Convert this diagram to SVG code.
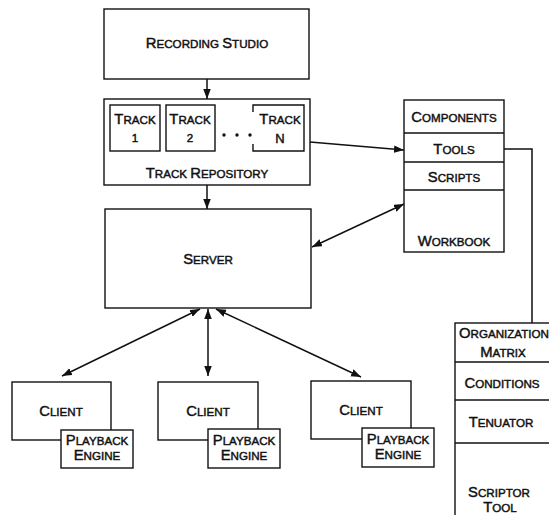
<svg xmlns="http://www.w3.org/2000/svg" width="549" height="515" viewBox="0 0 549 515">
<style>
.box{fill:#fff;stroke:#111;stroke-width:1.4}
.ln{fill:none;stroke:#111;stroke-width:1.5}
text{font-family:"Liberation Sans",Arial,sans-serif;font-size:11.6px;fill:#111;stroke:#111;stroke-width:0.45;text-anchor:middle}
.b{font-size:14.8px}
</style>
<defs>
<marker id="ah" markerUnits="userSpaceOnUse" markerWidth="11" markerHeight="8" refX="10" refY="3.75" orient="auto-start-reverse">
<path d="M0,0 L10,3.75 L0,7.5 z" fill="#111"/>
</marker>
</defs>
<rect width="549" height="515" fill="#fff"/>

<g id="recording-studio">
<rect class="box" x="104" y="9" width="205" height="70"/>
<text x="207" y="48"><tspan class="b">R</tspan>ECORDING <tspan class="b">S</tspan>TUDIO</text>
</g>

<g id="track-repository">
<rect class="box" x="104" y="99" width="206" height="86"/>
<text x="207" y="178"><tspan class="b">T</tspan>RACK <tspan class="b">R</tspan>EPOSITORY</text>
</g>
<g id="track-1">
<rect class="box" x="110" y="105" width="50" height="46"/>
<text x="135" y="124"><tspan class="b">T</tspan>RACK</text>
<text x="135" y="142">1</text>
</g>
<g id="track-2">
<rect class="box" x="166" y="105" width="49" height="46"/>
<text x="190" y="124"><tspan class="b">T</tspan>RACK</text>
<text x="190" y="142">2</text>
</g>
<g id="track-dots">
<circle cx="224" cy="135" r="1.7" fill="#111"/>
<circle cx="237" cy="135" r="1.7" fill="#111"/>
<circle cx="250" cy="135" r="1.7" fill="#111"/>
</g>
<g id="track-n">
<path class="ln" style="stroke-width:1.4" d="M253,112 V105 H304 V151 H253 V144"/>
<text x="280" y="124"><tspan class="b">T</tspan>RACK</text>
<text x="280" y="143" style="font-size:13px">N</text>
</g>

<g id="server">
<rect class="box" x="105" y="209" width="206" height="99"/>
<text x="208" y="264"><tspan class="b">S</tspan>ERVER</text>
</g>

<g id="components">
<rect class="box" x="404" y="100" width="100" height="152"/>
<line class="ln" style="stroke-width:1.4" x1="404" y1="133" x2="504" y2="133"/>
<line class="ln" style="stroke-width:1.4" x1="404" y1="162" x2="504" y2="162"/>
<line class="ln" style="stroke-width:1.4" x1="404" y1="190" x2="504" y2="190"/>
<text x="454" y="122"><tspan class="b">C</tspan>OMPONENTS</text>
<text x="454" y="154"><tspan class="b">T</tspan>OOLS</text>
<text x="454" y="182"><tspan class="b">S</tspan>CRIPTS</text>
<text x="454" y="246"><tspan class="b">W</tspan>ORKBOOK</text>
</g>

<g id="scriptor-tool">
<rect class="box" x="455" y="323" width="100" height="200"/>
<line class="ln" style="stroke-width:1.4" x1="455" y1="362" x2="549" y2="362"/>
<line class="ln" style="stroke-width:1.4" x1="455" y1="400" x2="549" y2="400"/>
<line class="ln" style="stroke-width:1.4" x1="455" y1="443" x2="549" y2="443"/>
<text x="504" y="338"><tspan class="b">O</tspan>RGANIZATION</text>
<text x="503" y="357"><tspan class="b">M</tspan>ATRIX</text>
<text x="502" y="388"><tspan class="b">C</tspan>ONDITIONS</text>
<text x="501" y="427"><tspan class="b">T</tspan>ENUATOR</text>
<text x="499" y="497"><tspan class="b">S</tspan>CRIPTOR</text>
<text x="500" y="512"><tspan class="b">T</tspan>OOL</text>
</g>

<g id="client-1">
<rect class="box" x="12" y="382" width="99" height="58"/>
<text x="61" y="416"><tspan class="b">C</tspan>LIENT</text>
</g>
<g id="playback-1">
<rect class="box" x="61" y="430" width="72" height="38"/>
<text x="97" y="445"><tspan class="b">P</tspan>LAYBACK</text>
<text x="97" y="460"><tspan class="b">E</tspan>NGINE</text>
</g>
<g id="client-2">
<rect class="box" x="158" y="382" width="100" height="58"/>
<text x="208" y="416"><tspan class="b">C</tspan>LIENT</text>
</g>
<g id="playback-2">
<rect class="box" x="208" y="429" width="72" height="39"/>
<text x="244" y="445"><tspan class="b">P</tspan>LAYBACK</text>
<text x="244" y="460"><tspan class="b">E</tspan>NGINE</text>
</g>
<g id="client-3">
<rect class="box" x="311" y="381" width="100" height="58"/>
<text x="361" y="415"><tspan class="b">C</tspan>LIENT</text>
</g>
<g id="playback-3">
<rect class="box" x="362" y="428" width="72" height="39"/>
<text x="398" y="444"><tspan class="b">P</tspan>LAYBACK</text>
<text x="398" y="459"><tspan class="b">E</tspan>NGINE</text>
</g>

<g id="connectors">
<line class="ln" x1="207" y1="79" x2="207" y2="99" marker-end="url(#ah)"/>
<line class="ln" x1="207" y1="185" x2="207" y2="209" marker-end="url(#ah)"/>
<line class="ln" x1="310" y1="142" x2="404" y2="150" marker-end="url(#ah)"/>
<line class="ln" x1="312" y1="247" x2="404" y2="204" marker-start="url(#ah)" marker-end="url(#ah)"/>
<polyline class="ln" points="504,149 532,149 532,323"/>
<line class="ln" x1="200" y1="309" x2="62" y2="376" marker-start="url(#ah)" marker-end="url(#ah)"/>
<line class="ln" x1="208" y1="309" x2="208" y2="376" marker-start="url(#ah)" marker-end="url(#ah)"/>
<line class="ln" x1="216" y1="309" x2="361" y2="377" marker-start="url(#ah)" marker-end="url(#ah)"/>
</g>
</svg>
